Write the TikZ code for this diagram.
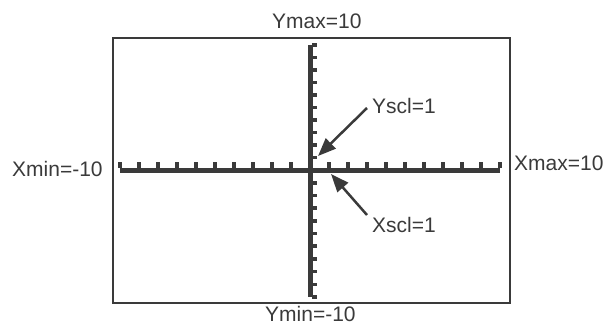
\documentclass[tikz,border=0pt]{standalone}
\usepackage{fontspec}
\setmainfont{Liberation Sans}
\usetikzlibrary{arrows.meta}
\definecolor{ink}{HTML}{3A3A3A}
\tikzset{
  lbl/.style={font=\fontsize{21}{24}\selectfont, text=ink, inner sep=0pt, anchor=base west},
  axisline/.style={draw=ink, line width=5pt},
  frame/.style={draw=ink, line width=2pt},
  tickmark/.style={fill=ink},
  arr/.style={draw=ink, line width=2.5pt, -{Triangle[length=18pt,width=14pt]}},
}
\begin{document}
\begin{tikzpicture}[x=1pt,y=-1pt]
\useasboundingbox (0,0) rectangle (607,327);
% frame
\draw[frame] (113,38) rectangle (510,303);
% axes
\coordinate (xl) at (120,170);
\coordinate (xr) at (500,170);
\coordinate (yt) at (310,45);
\coordinate (yb) at (310,297);
\draw[axisline] (xl) -- (xr);
\draw[axisline] (yt) -- (yb);
% ticks on x axis (above)
\foreach \k in {0,...,9,11,12,...,20} {
  \fill[tickmark] ({120+19*\k-1.8},168) rectangle ({120+19*\k+1.8},162);
}
% ticks on y axis (right)
\foreach \k in {0,...,9} {
  \fill[tickmark] (312,{45+12.5*\k-1.8}) rectangle (317,{45+12.5*\k+1.8});
}
\foreach \k in {1,...,10} {
  \fill[tickmark] (312,{170+12.7*\k-1.8}) rectangle (317,{170+12.7*\k+1.8});
}
% labels
\node[lbl] (ymax) at (272,28) {Ymax=10};
\node[lbl] (ymin) at (265,321) {Ymin=-10};
\node[lbl] (xmin) at (12,176) {Xmin=-10};
\node[lbl] (xmax) at (514,170) {Xmax=10};
\node[lbl] (yscl) at (372,113) {Yscl=1};
\node[lbl] (xscl) at (372,232) {Xscl=1};
% arrows
\coordinate (ytip) at (318,156);
\coordinate (xtip) at (331,174);
\draw[arr] ([shift={(-5,-5)}]yscl.base west) -- (ytip);
\draw[arr] ([shift={(-5,-17)}]xscl.base west) -- (xtip);
\end{tikzpicture}
\end{document}
